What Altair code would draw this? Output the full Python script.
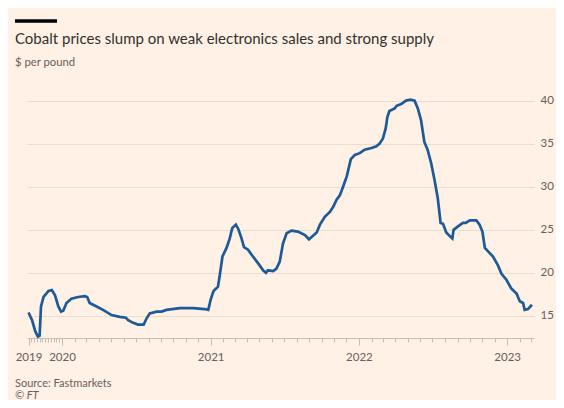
import altair as alt
import pandas as pd

# ---- data (Fastmarkets cobalt, $ per pound) ----
dates = [
    "2019-01-01", "2019-02-09", "2019-03-16", "2019-04-14", "2019-05-02", "2019-05-17",
    "2019-06-14", "2019-08-07", "2019-09-12", "2019-10-17", "2019-11-22", "2019-12-21",
    "2020-01-04", "2020-01-12", "2020-01-24", "2020-02-10", "2020-02-26", "2020-03-03",
    "2020-03-09", "2020-03-26", "2020-04-11", "2020-05-02", "2020-05-22", "2020-06-06",
    "2020-06-12", "2020-06-24", "2020-07-06", "2020-07-20", "2020-07-27", "2020-08-04",
    "2020-08-21", "2020-09-02", "2020-09-14", "2020-10-17", "2020-11-19", "2020-12-17",
    "2020-12-26", "2021-01-01", "2021-01-08", "2021-01-19", "2021-01-23", "2021-01-30",
    "2021-02-09", "2021-02-17", "2021-02-23", "2021-03-04", "2021-03-10", "2021-03-18",
    "2021-03-24", "2021-04-03", "2021-04-15", "2021-04-28", "2021-05-10", "2021-05-17",
    "2021-05-22", "2021-06-04", "2021-06-12", "2021-06-20", "2021-06-28", "2021-07-07",
    "2021-07-19", "2021-08-04", "2021-08-21", "2021-08-31", "2021-09-10", "2021-09-19",
    "2021-09-27", "2021-10-09", "2021-10-22", "2021-10-30", "2021-11-07", "2021-11-15",
    "2021-11-23", "2021-12-02", "2021-12-08", "2021-12-12", "2021-12-22", "2022-01-03",
    "2022-01-15", "2022-02-01", "2022-02-13", "2022-02-21", "2022-03-01", "2022-03-08",
    "2022-03-12", "2022-03-17", "2022-03-30", "2022-04-04", "2022-04-15", "2022-04-27",
    "2022-05-08", "2022-05-18", "2022-05-26", "2022-06-03", "2022-06-11", "2022-06-19",
    "2022-06-28", "2022-07-06", "2022-07-14", "2022-07-21", "2022-07-27", "2022-08-04",
    "2022-08-12", "2022-08-19", "2022-08-22", "2022-09-02", "2022-09-14", "2022-09-21",
    "2022-10-01", "2022-10-17", "2022-10-25", "2022-11-01", "2022-11-07", "2022-11-15",
    "2022-11-27", "2022-12-09", "2022-12-18", "2022-12-30", "2023-01-11", "2023-01-24",
    "2023-02-01", "2023-02-09", "2023-02-13", "2023-02-21", "2023-03-03",
]
prices = [
    15.4, 14.5, 13.2, 12.6, 12.7, 16.1,
    17.2, 17.9, 18.0, 17.4, 16.1, 15.5,
    15.6, 16.5, 17.0, 17.2, 17.3, 17.2,
    16.5, 16.1, 15.7, 15.1, 14.9, 14.8,
    14.5, 14.2, 14.0, 14.0, 14.7, 15.3,
    15.5, 15.5, 15.7, 15.9, 15.9, 15.8,
    15.7, 16.9, 17.9, 18.4, 19.6, 21.9,
    22.9, 24.0, 25.2, 25.6, 25.1, 24.0,
    23.0, 22.7, 21.9, 21.1, 20.3, 20.0,
    20.3, 20.2, 20.5, 21.3, 23.4, 24.6,
    24.9, 24.8, 24.4, 23.9, 24.3, 24.7,
    25.6, 26.5, 27.1, 27.7, 28.5, 29.0,
    30.0, 31.2, 32.4, 33.2, 33.7, 33.9,
    34.3, 34.5, 34.7, 35.0, 35.6, 36.8,
    38.1, 38.8, 39.1, 39.4, 39.6, 40.0,
    40.1, 40.0, 39.1, 37.7, 35.2, 34.3,
    32.7, 30.8, 28.7, 25.8, 25.7, 24.7,
    24.3, 24.0, 25.0, 25.4, 25.8, 25.8,
    26.1, 26.1, 25.6, 24.8, 22.9, 22.5,
    21.9, 20.9, 19.9, 19.2, 18.2, 17.6,
    16.7, 16.5, 15.7, 15.8, 16.3,
]
y_ticks = [15, 20, 25, 30, 35, 40]
# The reference squeezes 2019 into a short stretch at the left of the time axis.
break_date = "2020-01-01"
axis_end = "2023-03-08"
squeeze = 0.226          # 2019 is drawn at this fraction of the normal time scale
lead_days = 86.2         # (warped) days shown before 1 Jan 2020

title_text = "Cobalt prices slump on weak electronics sales and strong supply"
subtitle_text = "$ per pound"
source_text = "Source: Fastmarkets"
credit_text = "© FT"

df = pd.DataFrame({"date": dates, "price": prices})

DAY = 86400000
def ms(d):
    return int(pd.Timestamp(d, tz="UTC").value // 10**6)

T_BREAK = ms(break_date)
T_END = ms(axis_end)

def warp(t):
    return t if t >= T_BREAK else T_BREAK - (T_BREAK - t) * squeeze

month_starts = [ms(d) for d in pd.date_range("2019-01-01", "2023-03-01", freq="MS")]
tick_values = [warp(t) for t in month_starts]

warp_expr = (f"time(toDate(datum.date)) >= {T_BREAK} ? time(toDate(datum.date)) : "
             f"{T_BREAK} - ({T_BREAK} - time(toDate(datum.date))) * {squeeze}")
real_expr = (f"((time(datum.value) >= {T_BREAK} ? time(datum.value) : "
             f"{T_BREAK} - ({T_BREAK} - time(datum.value)) / {squeeze}) + {DAY // 2})")

BG = "#FFF1E5"
TEXT = "#33302E"
MUTED = "#66605C"
FONT = "Lato"

x_scale = alt.Scale(type="utc", domain=[T_BREAK - lead_days * DAY, T_END], nice=False)

x_axis = alt.Axis(
    title=None,
    values=tick_values,
    labelExpr=f"utcmonth({real_expr}) == 0 ? utcFormat({real_expr}, '%Y') : ''",
    tickSize={"condition": {"test": f"utcmonth({real_expr}) == 0", "value": 7}, "value": 4},
    tickColor="#C9BDB2",
    domainColor="#C9BDB2",
    labelColor=MUTED,
    labelFont=FONT,
    labelFontSize=11.5,
    labelPadding=6,
    labelOverlap=False,
    labelFlush=False,
    labelBound=False,
    grid=False,
)

y_axis = alt.Axis(
    title=None,
    orient="right",
    values=y_ticks,
    domain=False,
    ticks=False,
    grid=True,
    gridColor="#EBDCCE",
    labelColor=MUTED,
    labelFont=FONT,
    labelFontSize=11.5,
    labelPadding=6,
    labelAlign="left",
    labelBaseline="middle",
)

line = alt.Chart(df).transform_calculate(pos=warp_expr).mark_line(
    color="#1D5A97", strokeWidth=2.7, clip=False
).encode(
    x=alt.X("pos:T", scale=x_scale, axis=x_axis),
    y=alt.Y("price:Q", scale=alt.Scale(domain=[12.44, 41.0], nice=False, zero=False), axis=y_axis),
)

txt = pd.DataFrame({"title": [title_text], "subtitle": [subtitle_text],
                    "source": [source_text], "credit": [credit_text]})

bar = alt.Chart(txt).mark_rule(color="#000000", strokeWidth=3.5).encode(
    x=alt.value(-12), x2=alt.value(30), y=alt.value(-71)
)
title = alt.Chart(txt).mark_text(align="left", baseline="alphabetic", font=FONT,
                                 fontSize=15, color=TEXT).encode(
    x=alt.value(-12), y=alt.value(-48), text="title:N")
subtitle = alt.Chart(txt).mark_text(align="left", baseline="alphabetic", font=FONT,
                                    fontSize=11.3, color=MUTED).encode(
    x=alt.value(-12), y=alt.value(-26), text="subtitle:N")
source = alt.Chart(txt).mark_text(align="left", baseline="alphabetic", font=FONT,
                                  fontSize=11, color=MUTED).encode(
    x=alt.value(-12), y=alt.value(295), text="source:N")
credit = alt.Chart(txt).mark_text(align="left", baseline="alphabetic", font=FONT,
                                  fontSize=11, fontStyle="italic", color=MUTED).encode(
    x=alt.value(-12), y=alt.value(307), text="credit:N")

chart = alt.layer(line, bar, title, subtitle, source, credit).properties(
    width=507,
    height=246,
    autosize=alt.AutoSizeParams(type="none"),
    padding={"left": 19, "top": 84, "right": 22, "bottom": 62},
    background=BG,
).configure_view(stroke=None)

chart.save("out.html", embed_options={"renderer": "svg", "actions": False})
